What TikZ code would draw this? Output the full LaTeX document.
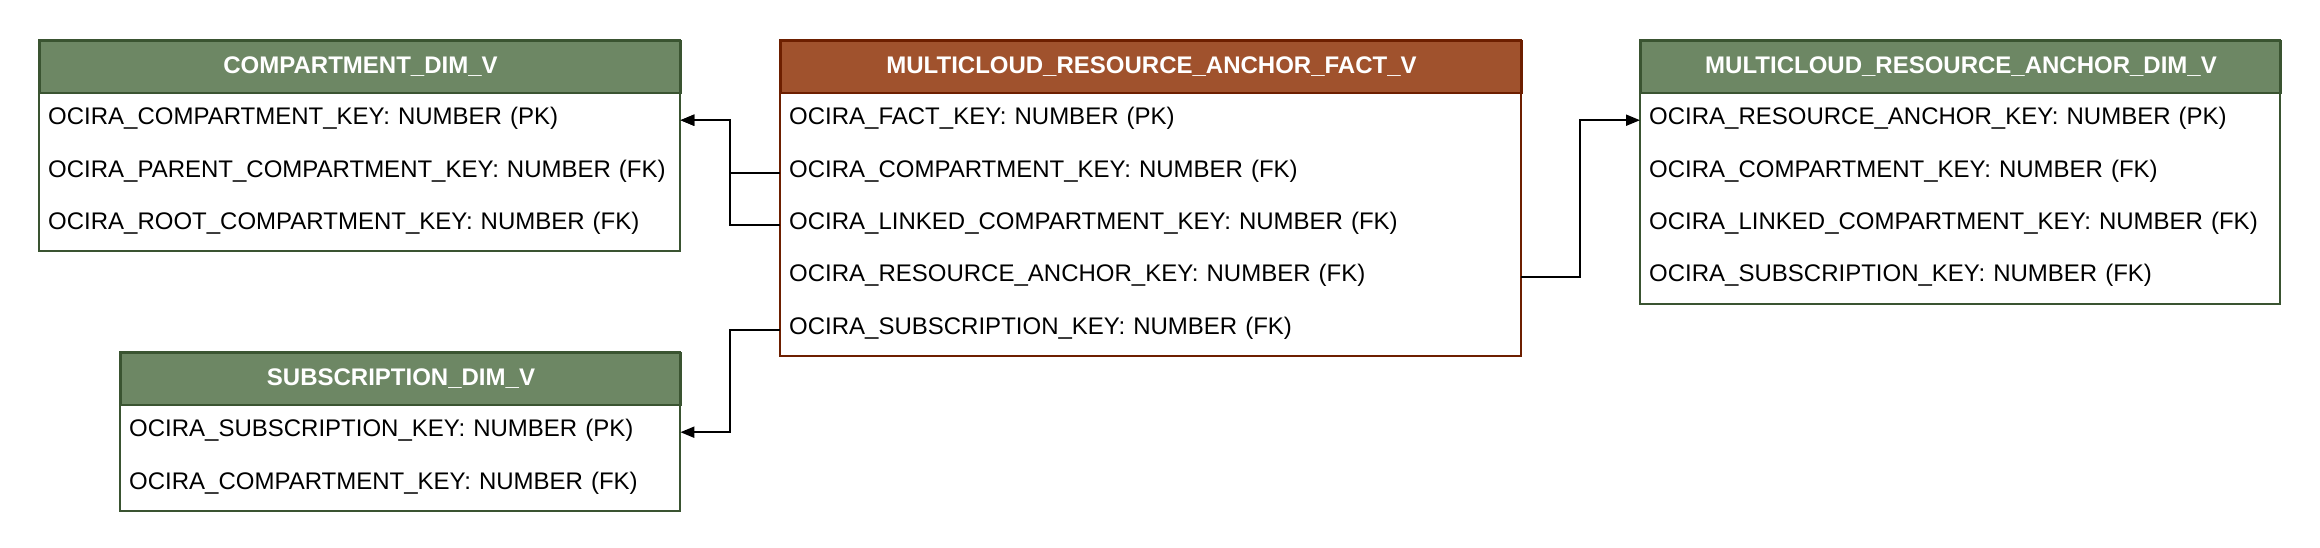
\documentclass[tikz,border=0pt]{standalone}
\usepackage{fontspec}
\setmainfont{Liberation Sans}
\usetikzlibrary{arrows.meta}
\definecolor{dimfill}{HTML}{6D8764}
\definecolor{dimline}{HTML}{3A5431}
\definecolor{factfill}{HTML}{A0522D}
\definecolor{factline}{HTML}{6D1F00}

\begin{document}
\begin{tikzpicture}[x=1pt,y=-1pt,
  every node/.style={font=\fontsize{24}{28}\selectfont},
  dimhead/.style={draw=dimline, line width=2pt, fill=dimfill, text=white, font=\fontsize{24}{28}\selectfont\bfseries, minimum width=#1, minimum height=52, inner sep=0pt, anchor=north west},
  facthead/.style={draw=factline, line width=2pt, fill=factfill, text=white, font=\fontsize{24}{28}\selectfont\bfseries, minimum width=#1, minimum height=52, inner sep=0pt, anchor=north west},
  keyrow/.style={text width=#1-18pt, align=left, text height=17pt, text depth=8pt, inner xsep=9pt, inner ysep=0pt, minimum height=52, anchor=north west},
  dimbox/.style={draw=dimline, line width=2pt},
  factbox/.style={draw=factline, line width=2pt},
  fk/.style={line width=2pt, -{Triangle[length=14pt,width=11pt]}}]
\useasboundingbox (0,0) rectangle (2320,548);

%Table: COMPARTMENT_DIM_V
\node[dimhead=641] (cmp) at (39,40) {COMPARTMENT\_DIM\_V};
\node[keyrow=641] (cmp-r1) at (cmp.south west) {OCIRA\_COMPARTMENT\_KEY: NUMBER (PK)};
\node[keyrow=641] (cmp-r2) at (cmp-r1.south west) {OCIRA\_PARENT\_COMPARTMENT\_KEY: NUMBER (FK)};
\node[keyrow=641] (cmp-r3) at (cmp-r2.south west) {OCIRA\_ROOT\_COMPARTMENT\_KEY: NUMBER (FK)};
\draw[dimbox] (cmp.north west) rectangle (cmp-r3.south east);

%Table: SUBSCRIPTION_DIM_V
\node[dimhead=560] (sub) at (120,352) {SUBSCRIPTION\_DIM\_V};
\node[keyrow=560] (sub-r1) at (sub.south west) {OCIRA\_SUBSCRIPTION\_KEY: NUMBER (PK)};
\node[keyrow=560] (sub-r2) at (sub-r1.south west) {OCIRA\_COMPARTMENT\_KEY: NUMBER (FK)};
\draw[dimbox] (sub.north west) rectangle (sub-r2.south east);

%Table: MULTICLOUD_RESOURCE_ANCHOR_FACT_V
\node[facthead=741] (fact) at (780,40) {MULTICLOUD\_RESOURCE\_ANCHOR\_FACT\_V};
\node[keyrow=741] (fact-r1) at (fact.south west) {OCIRA\_FACT\_KEY: NUMBER (PK)};
\node[keyrow=741] (fact-r2) at (fact-r1.south west) {OCIRA\_COMPARTMENT\_KEY: NUMBER (FK)};
\node[keyrow=741] (fact-r3) at (fact-r2.south west) {OCIRA\_LINKED\_COMPARTMENT\_KEY: NUMBER (FK)};
\node[keyrow=741] (fact-r4) at (fact-r3.south west) {OCIRA\_RESOURCE\_ANCHOR\_KEY: NUMBER (FK)};
\node[keyrow=741] (fact-r5) at (fact-r4.south west) {OCIRA\_SUBSCRIPTION\_KEY: NUMBER (FK)};
\draw[factbox] (fact.north west) rectangle (fact-r5.south east);

%Table: MULTICLOUD_RESOURCE_ANCHOR_DIM_V
\node[dimhead=640] (res) at (1640,40) {MULTICLOUD\_RESOURCE\_ANCHOR\_DIM\_V};
\node[keyrow=640] (res-r1) at (res.south west) {OCIRA\_RESOURCE\_ANCHOR\_KEY: NUMBER (PK)};
\node[keyrow=640] (res-r2) at (res-r1.south west) {OCIRA\_COMPARTMENT\_KEY: NUMBER (FK)};
\node[keyrow=640] (res-r3) at (res-r2.south west) {OCIRA\_LINKED\_COMPARTMENT\_KEY: NUMBER (FK)};
\node[keyrow=640] (res-r4) at (res-r3.south west) {OCIRA\_SUBSCRIPTION\_KEY: NUMBER (FK)};
\draw[dimbox] (res.north west) rectangle (res-r4.south east);

%Connectors
\draw[fk] (fact-r2.west) -- ([xshift=-50pt]fact-r2.west) |- (cmp-r1.east);
\draw[fk] (fact-r3.west) -- ([xshift=-50pt]fact-r3.west) |- (cmp-r1.east);
\draw[fk] (fact-r5.west) -- ([xshift=-50pt]fact-r5.west) |- (sub-r1.east);
\draw[fk] (fact-r4.east) -- ([xshift=59pt]fact-r4.east) |- (res-r1.west);

\end{tikzpicture}
\end{document}
